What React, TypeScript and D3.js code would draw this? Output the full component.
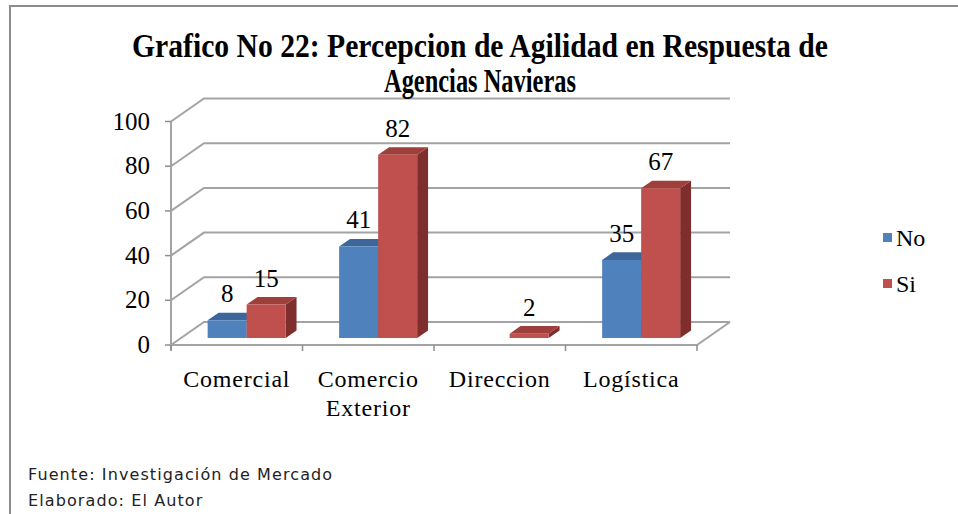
import React, { Component } from "react";
import * as d3 from "d3";

const categories = ["Comercial", "Comercio\nExterior", "Direccion", "Logística"];
const seriesNames = ["No", "Si"];
const noValues: (number | null)[] = [8, 41, null, 35];
const siValues: (number | null)[] = [15, 82, 2, 67];
const yTicks = [0, 20, 40, 60, 80, 100];
const titleLines = ["Grafico No 22: Percepcion de Agilidad en Respuesta de", "Agencias Navieras"];
const footerLines = ["Fuente: Investigación de Mercado", "Elaborado: El Autor"];

class App extends Component {
    myRef = React.createRef<HTMLDivElement>();

    componentDidMount() {
        this.drawChart();
    }

    drawChart() {
        const width = 958;
        const height = 514;
        const depthX = 33;
        const depthY = -23;
        const barFront = 0.3;
        const barBack = 0.63;
        const colors = {
            No: { front: "#4f81bd", top: "#3d679b", side: "#2f5583" },
            Si: { front: "#c0504d", top: "#9e3f3c", side: "#7e2e2c" },
        };

        const root = d3.select(this.myRef.current);
        root.selectAll("*").remove();
        const svg = root.append("svg")
            .attr("width", width)
            .attr("height", height)
            .style("position", "absolute")
            .style("left", 0)
            .style("top", 0)
            .style("background", "#fff");

        // frame (only top and left show in the picture)
        svg.append("path")
            .attr("d", `M10,${height} L10,6 L${width},6`)
            .attr("fill", "none")
            .attr("stroke", "#8c8c8c")
            .attr("stroke-width", 2);

        const x = d3.scaleBand().domain(categories).range([171, 697]);
        const y = d3.scaleLinear().domain([0, 100]).range([345, 121.5]);
        const proj = (px: number, py: number, d: number) => [px + d * depthX, py + d * depthY];
        const poly = (pts: number[][]) => "M" + pts.map(p => p.join(",")).join("L") + "Z";

        const grid = svg.append("g");
        const gridColor = "#a3a3a3";
        yTicks.forEach(t => {
            const [bx, by] = proj(x.range()[0], y(t), 1);
            const [ex] = proj(x.range()[1], y(t), 1);
            grid.append("path")
                .attr("d", `M${x.range()[0]},${y(t)} L${bx},${by} L${ex},${by}`)
                .attr("fill", "none")
                .attr("stroke", gridColor)
                .attr("stroke-width", 2);
            grid.append("line")
                .attr("x1", x.range()[0] - 6).attr("x2", x.range()[0])
                .attr("y1", y(t)).attr("y2", y(t))
                .attr("stroke", "#8c8c8c").attr("stroke-width", 1.5);
        });
        // floor
        const [fx1, fy1] = proj(x.range()[1], y(0), 1);
        grid.append("path")
            .attr("d", `M${x.range()[0]},${y(0)} L${x.range()[1]},${y(0)} L${fx1},${fy1}`)
            .attr("fill", "none")
            .attr("stroke", gridColor)
            .attr("stroke-width", 2);
        grid.append("line")
            .attr("x1", x.range()[0]).attr("x2", x.range()[0])
            .attr("y1", y(100)).attr("y2", y(0) + 5)
            .attr("stroke", gridColor).attr("stroke-width", 2);
        const bounds = categories.map(c => x(c) as number).concat([x.range()[1]]);
        bounds.forEach(b => {
            grid.append("line")
                .attr("x1", b).attr("x2", b)
                .attr("y1", y(0)).attr("y2", y(0) + 6)
                .attr("stroke", "#8c8c8c").attr("stroke-width", 1.5);
        });

        const g = svg.append("g");
        const serif = "Liberation Serif, Times New Roman, serif";
        const data = [noValues, siValues];

        categories.forEach((cat, i) => {
            const cx = (x(cat) as number) + x.bandwidth() / 2;
            const inner = d3.scaleBand().domain(seriesNames).range([cx - 39, cx + 39]);
            seriesNames.forEach((s, j) => {
                const v = data[j][i];
                if (v === null) return;
                const c = colors[s as "No" | "Si"];
                const x0 = inner(s) as number;
                const x1 = x0 + inner.bandwidth();
                const f00 = proj(x0, y(0), barFront);
                const f10 = proj(x1, y(0), barFront);
                const f0v = proj(x0, y(v), barFront);
                const f1v = proj(x1, y(v), barFront);
                const b0v = proj(x0, y(v), barBack);
                const b1v = proj(x1, y(v), barBack);
                const b10 = proj(x1, y(0), barBack);
                g.append("path").attr("d", poly([f10, f1v, b1v, b10])).attr("fill", c.side);
                g.append("path").attr("d", poly([f0v, f1v, b1v, b0v])).attr("fill", c.top);
                g.append("path").attr("d", poly([f00, f10, f1v, f0v])).attr("fill", c.front);
                g.append("text")
                    .attr("x", (f0v[0] + f1v[0]) / 2)
                    .attr("y", f0v[1] - 18)
                    .attr("text-anchor", "middle")
                    .style("font-family", serif)
                    .style("font-size", "25px")
                    .text(v);
            });
        });

        // y axis labels
        yTicks.forEach(t => {
            svg.append("text")
                .attr("x", 150)
                .attr("y", y(t) + 8)
                .attr("text-anchor", "end")
                .style("font-family", serif)
                .style("font-size", "25px")
                .text(t);
        });

        // category labels
        categories.forEach(cat => {
            const cx = (x(cat) as number) + x.bandwidth() / 2;
            cat.split("\n").forEach((line, k) => {
                svg.append("text")
                    .attr("x", cx)
                    .attr("y", 387 + k * 29)
                    .attr("text-anchor", "middle")
                    .style("font-family", serif)
                    .style("font-size", "24px")
                    .style("letter-spacing", "0.8px")
                    .text(line);
            });
        });

        // legend
        seriesNames.forEach((s, j) => {
            const ly = 238 + j * 46;
            svg.append("rect")
                .attr("x", 883).attr("y", ly - 5)
                .attr("width", 9).attr("height", 9)
                .attr("fill", colors[s as "No" | "Si"].front);
            svg.append("text")
                .attr("x", 896).attr("y", ly + 8)
                .style("font-family", serif)
                .style("font-size", "24px")
                .text(s);
        });

        // title
        titleLines.forEach((line, k) => {
            svg.append("text")
                .attr("x", 480)
                .attr("y", 57 + k * 35)
                .attr("text-anchor", "middle")
                .style("font-family", serif)
                .style("font-weight", "bold")
                .style("font-size", "33px")
                .attr("textLength", k === 0 ? 696 : 192)
                .attr("lengthAdjust", "spacingAndGlyphs")
                .text(line);
        });

        // footer
        footerLines.forEach((line, k) => {
            svg.append("text")
                .attr("x", 28)
                .attr("y", 480 + k * 26)
                .style("font-family", "DejaVu Sans, sans-serif")
                .style("font-size", "16px")
                .style("letter-spacing", "1.1px")
                .attr("fill", "#222")
                .text(line);
        });
    }

    render() {
        return <div ref={this.myRef}></div>;
    }
}

export default App;
